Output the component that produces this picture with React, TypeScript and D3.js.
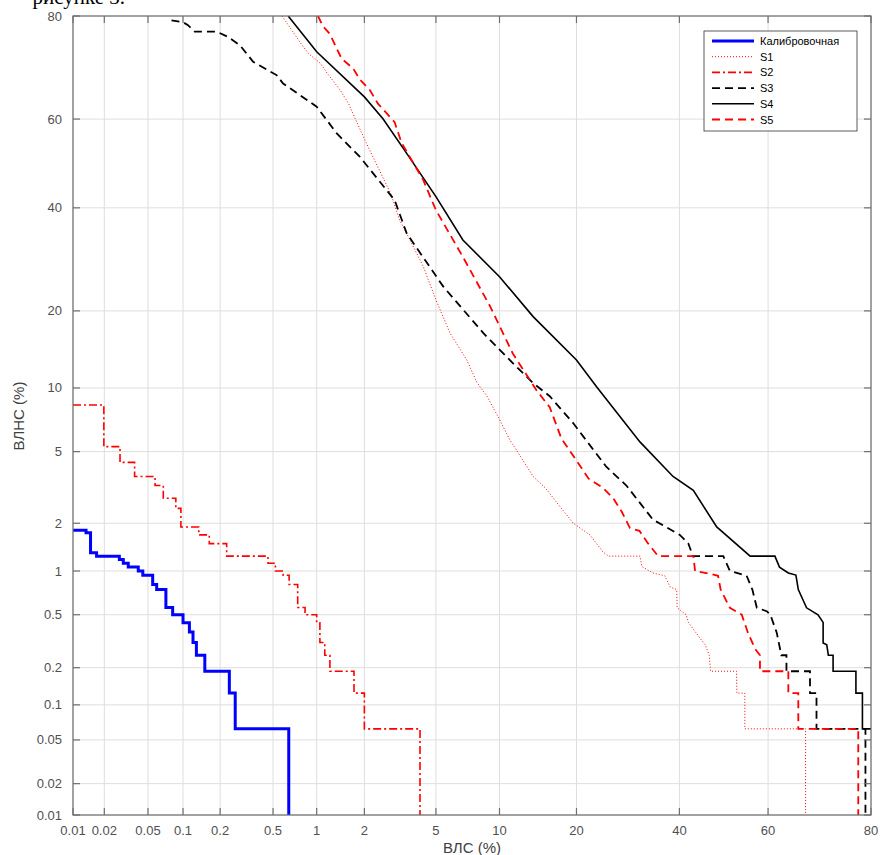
import React from "react";
import * as d3 from "d3";

// DET-кривые, значения в процентах: [ВЛС, ВЛНС]
const xTicks = [0.01, 0.02, 0.05, 0.1, 0.2, 0.5, 1, 2, 5, 10, 20, 40, 60, 80];
const yTicks = [0.01, 0.02, 0.05, 0.1, 0.2, 0.5, 1, 2, 5, 10, 20, 40, 60, 80];

// ступенчатые (curveStepAfter)
const calib: [number, number][] = [
  [0.01, 1.8125], [0.0134, 1.75], [0.0148, 1.3125], [0.0169, 1.25], [0.0276, 1.1875],
  [0.03, 1.125], [0.0333, 1.0625], [0.041, 1.0], [0.045, 0.9375], [0.055, 0.8125],
  [0.0596, 0.75], [0.0716, 0.5625], [0.0818, 0.5], [0.1, 0.4375], [0.113, 0.375],
  [0.121, 0.3125], [0.129, 0.25], [0.151, 0.1875], [0.236, 0.125], [0.262, 0.0625],
  [0.646, 0.005],
];
const s2: [number, number][] = [
  [0.01, 8.4], [0.0198, 5.3], [0.028, 4.4], [0.038, 3.7], [0.0577, 3.3], [0.068, 2.8],
  [0.087, 2.45], [0.096, 1.9], [0.135, 1.7], [0.164, 1.5], [0.225, 1.25], [0.46, 1.125],
  [0.52, 1.0], [0.59, 0.9375], [0.65, 0.8125], [0.745, 0.5625], [0.836, 0.5], [1.0, 0.4375],
  [1.05, 0.3125], [1.13, 0.25], [1.22, 0.1875], [1.73, 0.125], [2.0, 0.0625], [4.13, 0.005],
];

// плотные (ломаные)
const s1: [number, number][] = [
  [0.58, 80], [0.77, 75.6], [0.88, 73.5], [1.06, 71.6], [1.15, 70], [1.42, 66.2], [1.6, 63.4],
  [1.8, 59.3], [2.05, 54.7], [2.4, 49.2], [2.85, 43.2], [3.2, 37.3], [3.65, 33.1], [4.3, 27.8],
  [5.0, 21.8], [5.9, 16.6], [7.1, 13.1], [7.9, 10.6], [8.8, 9.2], [10, 7.2], [11.1, 5.7],
  [11.8, 5.1], [13.8, 3.7], [15.4, 3.2], [17.5, 2.5], [19.5, 2.0], [22.2, 1.7], [24.5, 1.33],
  [25.5, 1.25], [31.6, 1.25], [32, 1.07], [34.3, 0.97], [36.8, 0.93], [38, 0.78], [39.4, 0.75],
  [39.5, 0.56], [41.5, 0.5], [42, 0.44], [44.8, 0.33], [45.8, 0.3], [46.7, 0.25], [47, 0.1875],
  [52.9, 0.1875], [53, 0.125], [54.8, 0.125], [54.8, 0.0625], [68, 0.0625], [68, 0.005],
];
const s3: [number, number][] = [
  [0.08, 79.3], [0.1, 79], [0.11, 78.5], [0.125, 77.4], [0.188, 77.4], [0.23, 76.5], [0.285, 75],
  [0.358, 71.9], [0.53, 69.3], [0.59, 67.6], [0.77, 65.2], [1.0, 62.7], [1.35, 56.8], [1.88, 51.5],
  [3.0, 41.7], [3.5, 34.5], [5.45, 24.1], [8.5, 16.6], [11.8, 12.3], [13.8, 10.5], [16, 9.2],
  [19.5, 6.9], [25.1, 4.17], [28.9, 3.3], [34.3, 2.1], [40.1, 1.7], [42, 1.5], [43, 1.25],
  [49.9, 1.25], [51.4, 1.0], [55.2, 0.93], [56.5, 0.75], [57.5, 0.56], [59.7, 0.53], [60.5, 0.5],
  [61.9, 0.37], [62.9, 0.25], [64, 0.25], [64, 0.1875], [68.9, 0.1875], [68.9, 0.125], [70.2, 0.125],
  [70.2, 0.0625], [79.1, 0.0625], [79.1, 0.005],
];
const s4: [number, number][] = [
  [0.64, 80], [1.0, 73.8], [2.0, 64.8], [2.58, 60], [3.5, 52.3], [5.0, 42.5], [6.8, 33.1],
  [10, 25.9], [13.8, 19.1], [20, 13.1], [23.4, 10.1], [31.6, 5.6], [38.6, 3.7], [43.1, 3.1],
  [48.4, 1.9], [56, 1.25], [61.5, 1.25], [62.5, 1.06], [64.4, 0.97], [66, 0.94], [66.5, 0.75],
  [68.2, 0.56], [70.5, 0.5], [71.5, 0.44], [71.5, 0.31], [72.2, 0.3], [72.5, 0.25], [73.4, 0.25],
  [73.4, 0.1875], [77.5, 0.1875], [77.5, 0.125], [78.6, 0.125], [78.6, 0.0625], [81, 0.0625],
];
const s5: [number, number][] = [
  [1.02, 80], [1.1, 78.3], [1.22, 77], [1.35, 74.4], [1.45, 72.5], [1.71, 70.6], [1.88, 68.4],
  [2.16, 66.2], [2.4, 63.4], [3.0, 59.3], [3.28, 54.7], [4.3, 46.2], [5.0, 39.5], [6.8, 29.7],
  [9.1, 20.7], [11.4, 13.9], [14.2, 9.8], [16, 8.2], [17.7, 5.8], [20, 4.5], [22, 3.6],
  [24.5, 3.2], [26.4, 2.8], [28, 2.34], [29.6, 1.87], [31.5, 1.8], [33.3, 1.5], [35.4, 1.25],
  [43.1, 1.25], [43.5, 1.0], [46, 0.97], [48.7, 0.93], [49.3, 0.75], [51.4, 0.56], [54.1, 0.5],
  [55.5, 0.37], [57.1, 0.28], [58.2, 0.25], [58.2, 0.1875], [64.4, 0.1875], [64.4, 0.125],
  [66.5, 0.125], [66.5, 0.0625], [77.9, 0.0625], [77.9, 0.005],
];

const series = [
  { name: "Калибровочная", data: calib, step: true, color: "#0000ff", width: 3, dash: null },
  { name: "S1", data: s1, step: false, color: "#ff0000", width: 1, dash: "1 2" },
  { name: "S2", data: s2, step: true, color: "#ff0000", width: 1.6, dash: "8 3 2 3" },
  { name: "S3", data: s3, step: false, color: "#000000", width: 1.8, dash: "8 5" },
  { name: "S4", data: s4, step: false, color: "#000000", width: 1.6, dash: null },
  { name: "S5", data: s5, step: false, color: "#ff0000", width: 1.8, dash: "8 5" },
];

// обратная функция нормального распределения (Acklam)
function probit(p: number) {
  const a = [-39.69683028665376, 220.9460984245205, -275.9285104469687, 138.357751867269, -30.66479806614716, 2.506628277459239];
  const b = [-54.47609879822406, 161.5858368580409, -155.6989798598866, 66.80131188771972, -13.28068155288572];
  const c = [-0.007784894002430293, -0.3223964580411365, -2.400758277161838, -2.549732539343734, 4.374664141464968, 2.938163982698783];
  const d = [0.007784695709041462, 0.3224671290700398, 2.445134137142996, 3.754408661907416];
  const pl = 0.02425;
  if (p < pl) {
    const q = Math.sqrt(-2 * Math.log(p));
    return (((((c[0] * q + c[1]) * q + c[2]) * q + c[3]) * q + c[4]) * q + c[5]) / ((((d[0] * q + d[1]) * q + d[2]) * q + d[3]) * q + 1);
  }
  if (p > 1 - pl) {
    const q = Math.sqrt(-2 * Math.log(1 - p));
    return -(((((c[0] * q + c[1]) * q + c[2]) * q + c[3]) * q + c[4]) * q + c[5]) / ((((d[0] * q + d[1]) * q + d[2]) * q + d[3]) * q + 1);
  }
  const q = p - 0.5, r = q * q;
  return (((((a[0] * r + a[1]) * r + a[2]) * r + a[3]) * r + a[4]) * r + a[5]) * q / (((((b[0] * r + b[1]) * r + b[2]) * r + b[3]) * r + b[4]) * r + 1);
}

const W = 881, H = 855;
const plot = { left: 73, top: 16, right: 871, bottom: 815 };
const font = "'Liberation Sans', Arial, Helvetica, sans-serif";

export default function App() {
  const xs = d3.scaleLinear().domain([probit(0.0001), probit(0.8)]).range([plot.left, plot.right]);
  const ys = d3.scaleLinear().domain([probit(0.0001), probit(0.8)]).range([plot.bottom, plot.top]);
  const x = (v: number) => xs(probit(v / 100));
  const y = (v: number) => ys(probit(v / 100));

  const lineLin = d3.line<[number, number]>().x(d => x(d[0])).y(d => y(d[1]));
  const lineStep = d3.line<[number, number]>().x(d => x(d[0])).y(d => y(d[1])).curve(d3.curveStepAfter);

  const axisColor = "#6f6f6f";
  const labelColor = "#505050";
  const tickLen = 7;

  const legX = 704, legY = 31, legW = 153, legH = 100;

  return (
    <div style={{ position: "fixed", left: 0, top: 0, width: W, height: H, background: "#fff" }}>
      <svg width={W} height={H} style={{ display: "block" }}>
        <rect x={0} y={0} width={W} height={H} fill="#fff" />
        <text x={125} y={4} textAnchor="end" fontFamily="'Liberation Serif', 'Times New Roman', serif" fontSize={21} fill="#000">рисунке 3.</text>
        <defs>
          <clipPath id="plotClip">
            <rect x={plot.left} y={plot.top} width={plot.right - plot.left} height={plot.bottom - plot.top} />
          </clipPath>
        </defs>

        {/* сетка */}
        <g stroke="#dedede" strokeWidth={1}>
          {xTicks.map(t => (
            <line key={"gx" + t} x1={x(t)} x2={x(t)} y1={plot.top} y2={plot.bottom} />
          ))}
          {yTicks.map(t => (
            <line key={"gy" + t} x1={plot.left} x2={plot.right} y1={y(t)} y2={y(t)} />
          ))}
        </g>

        {/* кривые */}
        <g clipPath="url(#plotClip)" fill="none">
          {series.map(s => (
            <path
              key={s.name}
              d={(s.step ? lineStep : lineLin)(s.data) || ""}
              stroke={s.color}
              strokeWidth={s.width}
              strokeDasharray={s.dash || undefined}
              strokeLinejoin="miter"
            />
          ))}
        </g>

        {/* оси */}
        <g stroke={axisColor} strokeWidth={1.2} fill="none">
          <rect x={plot.left} y={plot.top} width={plot.right - plot.left} height={plot.bottom - plot.top} />
          {xTicks.map(t => (
            <g key={"tx" + t}>
              <line x1={x(t)} x2={x(t)} y1={plot.bottom} y2={plot.bottom - tickLen} />
              <line x1={x(t)} x2={x(t)} y1={plot.top} y2={plot.top + tickLen} />
            </g>
          ))}
          {yTicks.map(t => (
            <g key={"ty" + t}>
              <line x1={plot.left} x2={plot.left + tickLen} y1={y(t)} y2={y(t)} />
              <line x1={plot.right} x2={plot.right - tickLen} y1={y(t)} y2={y(t)} />
            </g>
          ))}
        </g>
        <g fontFamily={font} fontSize={13} fill={labelColor}>
          {xTicks.map(t => (
            <text key={"lx" + t} x={x(t)} y={835} textAnchor="middle">{String(t)}</text>
          ))}
          {yTicks.map(t => (
            <text key={"ly" + t} x={62} y={y(t) + 4.5} textAnchor="end">{String(t)}</text>
          ))}
        </g>
        <text x={472} y={853} textAnchor="middle" fontFamily={font} fontSize={15} fill="#404040">ВЛС (%)</text>
        <text transform={`translate(24,416) rotate(-90)`} textAnchor="middle" fontFamily={font} fontSize={15} fill="#404040">ВЛНС (%)</text>

        {/* легенда */}
        <g>
          <rect x={legX} y={legY} width={legW} height={legH} fill="#fff" stroke="#333" strokeWidth={0.8} />
          {series.map((s, i) => {
            const ly = legY + 10 + i * 15.7;
            return (
              <g key={"lg" + s.name}>
                <line x1={712} x2={754} y1={ly} y2={ly} stroke={s.color} strokeWidth={s.width}
                  strokeDasharray={s.dash || undefined} />
                <text x={760} y={ly + 4} fontFamily={font} fontSize={11} fill="#000">{s.name}</text>
              </g>
            );
          })}
        </g>
      </svg>
    </div>
  );
}
